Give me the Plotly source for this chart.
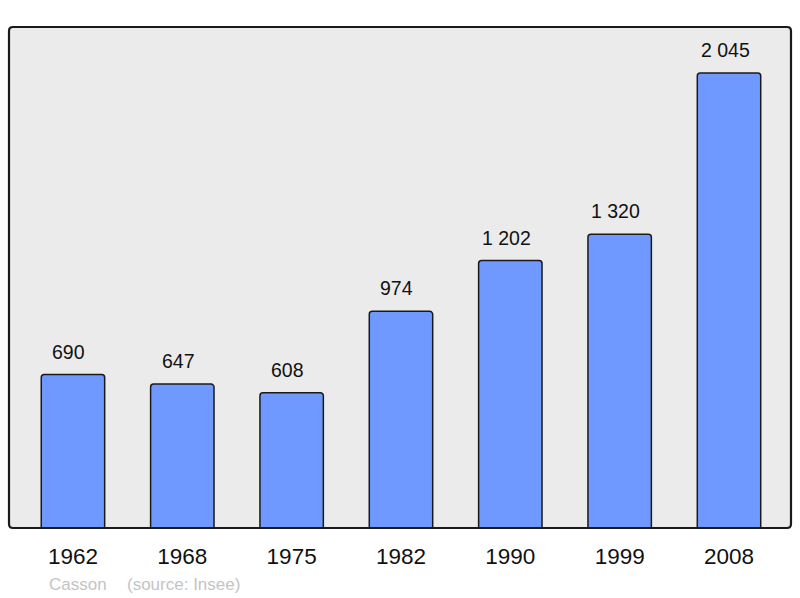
import plotly.graph_objects as go

years = ["1962", "1968", "1975", "1982", "1990", "1999", "2008"]
population = [690, 647, 608, 974, 1202, 1320, 2045]
labels = ["690", "647", "608", "974", "1 202", "1 320", "2 045"]
commune = "Casson"
source = "(source: Insee)"

W, H = 800, 598
fx0, fx1, fy0, fy1 = 9, 791, 27, 528
L, R, T, B = fx0, W - fx1, fy0, H - fy1
pw, ph = W - L - R, H - T - B

fig = go.Figure()
fig.add_trace(go.Bar(
    x=list(range(len(years))), y=population, width=0.58,
    marker=dict(color="#7099ff", line=dict(color="#1a1a1a", width=1.5)),
    hoverinfo="skip",
))
for i, (v, t) in enumerate(zip(population, labels)):
    fig.add_annotation(x=i, y=v, text=t, showarrow=False, yanchor="bottom",
                       yshift=10, xshift=-4, font=dict(size=19.5, color="#111"))

r = 4
def px(x):
    return (x - L) / pw
def py(y):
    return 1 - (y - T) / ph
rx, ry = r / pw, r / ph
a, b, c, d = px(fx0), px(fx1), py(fy0), py(fy1)
path = (f"M {a+rx},{c} L {b-rx},{c} Q {b},{c} {b},{c-ry} "
        f"L {b},{d+ry} Q {b},{d} {b-rx},{d} "
        f"L {a+rx},{d} Q {a},{d} {a},{d+ry} "
        f"L {a},{c-ry} Q {a},{c} {a+rx},{c} Z")
fig.add_shape(type="path", path=path, xref="paper", yref="paper",
              line=dict(color="#1a1a1a", width=2.2), layer="above")

fig.add_annotation(x=px(47), y=py(584), xref="paper", yref="paper", text=commune,
                   showarrow=False, xanchor="left", yanchor="middle",
                   font=dict(size=17, color="#c4c4c4"))
fig.add_annotation(x=px(125), y=py(584), xref="paper", yref="paper", text=source,
                   showarrow=False, xanchor="left", yanchor="middle",
                   font=dict(size=17, color="#c4c4c4"))

fig.update_layout(
    width=W, height=H, margin=dict(l=L, r=R, t=T, b=B),
    paper_bgcolor="white", plot_bgcolor="#ebebeb",
    font=dict(family="Liberation Sans, Arial, sans-serif"),
    showlegend=False, barcornerradius=3,
    xaxis=dict(range=[-0.585, 6.567], tickmode="array",
               tickvals=list(range(len(years))), ticktext=years,
               showgrid=False, zeroline=False, showline=False, ticks="",
               tickfont=dict(size=22.5, color="#111"), ticklabelstandoff=12),
    yaxis=dict(range=[0, 2252], showgrid=False, zeroline=False,
               showticklabels=False, showline=False, ticks=""),
)
fig.write_html("out.html", config={"displayModeBar": False},
               post_script="document.body.style.margin='0';document.body.style.overflow='hidden';")
